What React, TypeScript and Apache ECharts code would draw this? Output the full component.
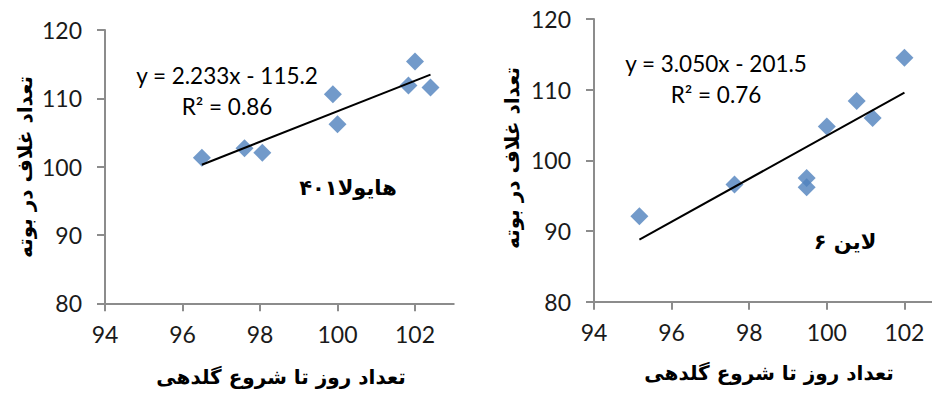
import React, { useEffect, useRef } from "react";
import * as echarts from "echarts";

// Left panel (Hyola 401)
const leftX = [96.5, 97.6, 98.06, 99.88, 100.0, 101.83, 102.0, 102.4];
const leftY = [101.3, 102.7, 102.05, 110.6, 106.2, 111.86, 115.4, 111.6];
// Right panel (Line 6)
const rightX = [95.17, 97.62, 99.48, 99.48, 100.0, 100.77, 101.18, 102.0];
const rightY = [92.1, 96.6, 97.5, 96.2, 104.8, 108.4, 106.0, 114.5];

// Linear trendline coefficients (from the printed equations)
const fitSlope = [2.233, 3.05];
const fitIntercept = [-115.2, -201.5];
const eqLabels = ["y = 2.233x - 115.2", "y = 3.050x - 201.5"];
const r2Labels = ["R² = 0.86", "R² = 0.76"];
const panelLabels = ["هایولا۴۰۱", "لاین ۶"];

const xTicks = [94, 96, 98, 100, 102];
const xTitle = "تعداد روز تا شروع گلدهی";
const yTitle = "تعداد غلاف در بوته";

const axisColor = "#8c8c8c";
const labelColor = "#1a1a1a";
const latin = "Lato, 'Open Sans', sans-serif";
const persian = "'DejaVu Sans', sans-serif";

function trend(xs: number[], i: number) {
  const lo = Math.min(...xs);
  const hi = Math.max(...xs);
  return [
    [lo, fitSlope[i] * lo + fitIntercept[i]],
    [hi, fitSlope[i] * hi + fitIntercept[i]],
  ];
}

function xAxis(gridIndex: number, max: number) {
  return {
    type: "value",
    gridIndex,
    min: 94,
    max,
    interval: 2,
    splitLine: { show: false },
    axisLine: { show: true, onZero: false, lineStyle: { color: axisColor, width: 2 } },
    axisTick: { show: true, length: 8, customValues: xTicks, lineStyle: { color: axisColor, width: 2 } },
    axisLabel: { customValues: xTicks, margin: 19, color: labelColor, fontFamily: latin, fontSize: 23 },
  };
}

function yAxis(gridIndex: number) {
  return {
    type: "value",
    gridIndex,
    min: 80,
    max: 120,
    interval: 10,
    splitLine: { show: false },
    axisLine: { show: true, onZero: false, lineStyle: { color: axisColor, width: 2 } },
    axisTick: { show: true, length: 8, lineStyle: { color: axisColor, width: 2 } },
    axisLabel: { margin: 23, color: labelColor, fontFamily: latin, fontSize: 23 },
  };
}

function txt(x: number, y: number, text: string, font: string, size: number, weight = "normal", rotation = 0) {
  return {
    type: "text",
    x,
    y,
    rotation,
    style: {
      text,
      fill: "#000",
      font: `${weight} ${size}px ${font}`,
      textAlign: "center",
      textVerticalAlign: "middle",
    },
  };
}

export default function App() {
  const ref = useRef<HTMLDivElement>(null);
  useEffect(() => {
    document.body.style.margin = "0";
    if (!ref.current) return;
    const chart = echarts.init(ref.current, undefined, { renderer: "svg" });
    const marker = { color: "#4F81BD" };
    chart.setOption({
      animation: false,
      backgroundColor: "#ffffff",
      grid: [
        { left: 105, top: 30, width: 348.75, height: 273.3, outerBoundsMode: "none", containLabel: false },
        { left: 594, top: 19, width: 338, height: 282.7, outerBoundsMode: "none", containLabel: false },
      ],
      xAxis: [xAxis(0, 103), xAxis(1, 102.71)],
      yAxis: [yAxis(0), yAxis(1)],
      series: [
        {
          type: "scatter",
          xAxisIndex: 0,
          yAxisIndex: 0,
          symbol: "diamond",
          symbolSize: 18,
          itemStyle: marker,
          data: leftX.map((x, i) => [x, leftY[i]]),
        },
        {
          type: "line",
          xAxisIndex: 0,
          yAxisIndex: 0,
          showSymbol: false,
          lineStyle: { color: "#000", width: 2 },
          data: trend(leftX, 0),
        },
        {
          type: "scatter",
          xAxisIndex: 1,
          yAxisIndex: 1,
          symbol: "diamond",
          symbolSize: 18,
          itemStyle: marker,
          data: rightX.map((x, i) => [x, rightY[i]]),
        },
        {
          type: "line",
          xAxisIndex: 1,
          yAxisIndex: 1,
          showSymbol: false,
          lineStyle: { color: "#000", width: 2 },
          data: trend(rightX, 1),
        },
      ],
      graphic: [
        txt(227, 75, eqLabels[0], latin, 22.5),
        txt(227, 106, r2Labels[0], latin, 22.5),
        txt(716, 63, eqLabels[1], latin, 22.5),
        txt(716, 94, r2Labels[1], latin, 22.5),
        txt(348, 188, panelLabels[0], persian, 21, "bold"),
        txt(845, 242, panelLabels[1], persian, 21, "bold"),
        txt(281, 377, xTitle, persian, 20, "bold"),
        txt(769, 373, xTitle, persian, 20, "bold"),
        txt(25, 167, yTitle, persian, 20, "bold", Math.PI / 2),
        txt(512, 158, yTitle, persian, 20, "bold", Math.PI / 2),
      ],
    });
    return () => chart.dispose();
  }, []);
  return <div ref={ref} style={{ width: 932, height: 394 }} />;
}
